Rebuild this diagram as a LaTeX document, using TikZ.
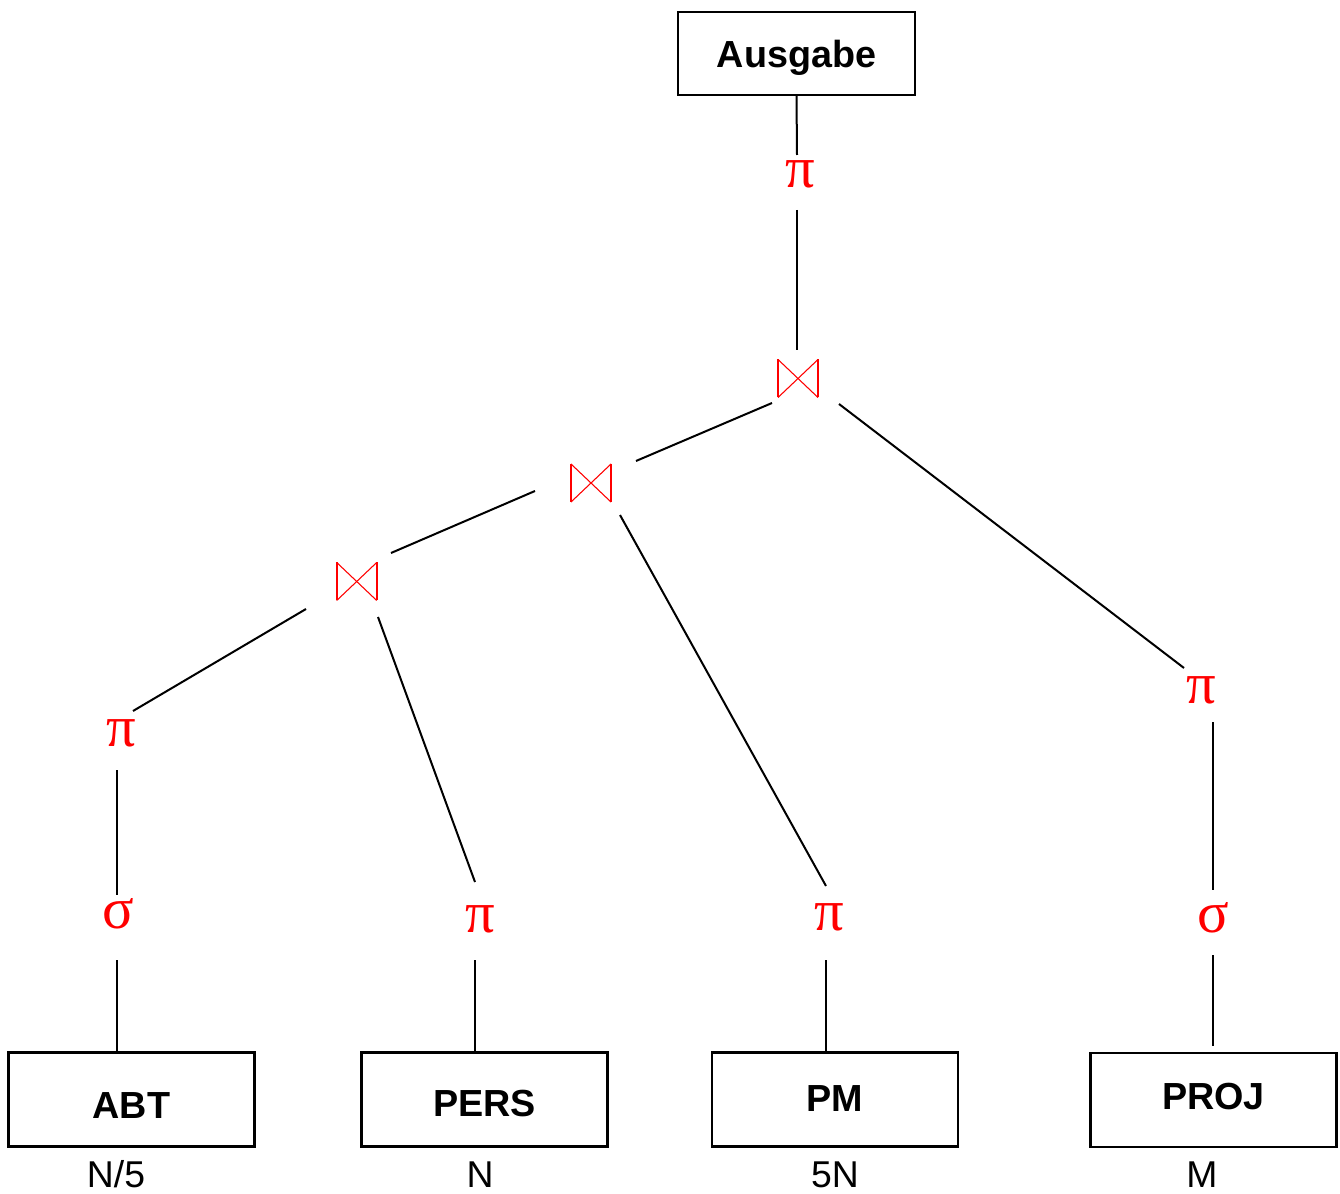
\documentclass[tikz,border=0pt]{standalone}
\usepackage{fontspec}
\setmainfont{Liberation Sans}
\newfontfamily\greekfont{Liberation Serif}
\begin{document}
\begin{tikzpicture}[x=0.75pt,y=-0.75pt,
  relbox/.style={draw,line width=2.2pt,inner sep=0pt,outer sep=0pt,text depth=0pt,
    font=\fontsize{28.3}{30}\selectfont\bfseries},
  bottombox/.style={relbox,minimum width=184.5pt,minimum height=70.5pt},
  op/.style={text=red,inner sep=0pt,font=\greekfont\fontsize{44}{46}\selectfont},
  joinop/.style={inner sep=0pt,outer sep=0pt,minimum width=30pt,minimum height=28.5pt},
  card/.style={inner sep=0pt,anchor=base,font=\fontsize{28}{30}\selectfont},
  edge/.style={line width=1.5pt},
  bowvert/.style={red,line width=1.3pt},
  bowdiag/.style={red,line width=0.8pt}]
\useasboundingbox (0,0) rectangle (1340,1194);

% relations and output
\node[relbox,minimum width=177.75pt,minimum height=62.25pt] (A) at (796.5,53.5) {Ausgabe};
\node[bottombox,text height=28.8pt] (ABT)  at (131.5,1099.5) {ABT};
\node[bottombox,text height=25pt] (PERS) at (484.5,1099.5) {PERS};
\node[bottombox,text height=17.6pt] (PM)   at (835,1099.5) {PM};
\node[bottombox,text height=14.6pt] (PROJ) at (1213.5,1100) {PROJ};

% cardinalities (placed on their baselines)
\node[card] (cA) at (116,1187) {N/5};
\node[card] (cB) at (480,1187) {N};
\node[card] (cC) at (835,1187) {5N};
\node[card] (cD) at (1202,1187) {M};

% operators
\node[op] (p0) at (800,174) {π};
\node[op] (pL) at (121,733) {π};
\node[op] (sL) at (118.5,914) {σ};
\node[op] (pP) at (480,919) {π};
\node[op] (pM) at (829,917) {π};
\node[op] (pR) at (1201.5,690) {π};
\node[op] (sR) at (1213,917.5) {σ};

% join operators (bowtie)
\node[joinop] (j1) at (798,378.5) {};
\node[joinop] (j2) at (591,483) {};
\node[joinop] (j3) at (356.7,581.5) {};
\foreach \j in {j1,j2,j3}{
  \draw[bowvert] (\j.north west) -- (\j.south west);
  \draw[bowvert] (\j.north east) -- (\j.south east);
  \draw[bowdiag] (\j.north west) -- (\j.south east);
  \draw[bowdiag] (\j.north east) -- (\j.south west);
}

% connectors
\draw[edge] (A.south) -- ([shift={(-3,-19)}]p0.center);
\draw[edge] ([shift={(-3,36)}]p0.center) -- ([shift={(-1,-28.5)}]j1.center);
\draw[edge] ([shift={(-26,24.5)}]j1.center) -- ([shift={(45,-22)}]j2.center);
\draw[edge] ([shift={(41,25.5)}]j1.center) -- ([shift={(-17.5,-22)}]pR.center);
\draw[edge] ([shift={(-56,8)}]j2.center) -- ([shift={(34.3,-28.5)}]j3.center);
\draw[edge] ([shift={(29,32)}]j2.center) -- ([shift={(-3,-31)}]pM.center);
\draw[edge] ([shift={(-50.7,27.5)}]j3.center) -- ([shift={(12,-22)}]pL.center);
\draw[edge] ([shift={(21.3,35.5)}]j3.center) -- ([shift={(-5,-37)}]pP.center);
\draw[edge] ([shift={(-4,37)}]pL.center) -- ([shift={(-1.5,-19)}]sL.center);
\draw[edge] ([shift={(-1.5,46)}]sL.center) -- ([shift={(-14.5,0)}]ABT.north);
\draw[edge] ([shift={(-5,41)}]pP.center) -- ([shift={(-9.5,0)}]PERS.north);
\draw[edge] ([shift={(-3,43)}]pM.center) -- ([shift={(-9,0)}]PM.north);
\draw[edge] ([shift={(11.5,32)}]pR.center) -- ([shift={(0,-27.5)}]sR.center);
\draw[edge] ([shift={(0,37.5)}]sR.center) -- ([shift={(-0.5,-7)}]PROJ.north);
\end{tikzpicture}
\end{document}
